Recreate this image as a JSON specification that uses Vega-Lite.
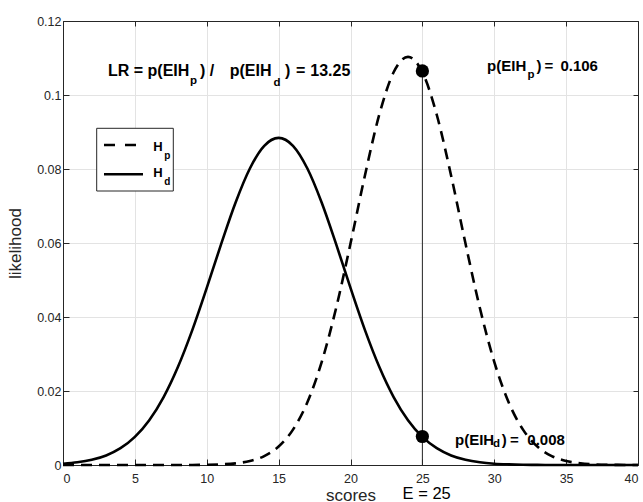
{
  "$schema": "https://vega.github.io/schema/vega-lite/v6.json",
  "width": 575,
  "height": 444,
  "autosize": {"type": "none"},
  "padding": {"left": 63, "top": 21, "right": 5, "bottom": 37},
  "background": "white",
  "config": {
    "view": {"stroke": null},
    "font": "Liberation Sans",
    "axis": {"labelFont": "Liberation Sans", "titleFont": "Liberation Sans"}
  },
  "datasets": {
    "curves": [
      {"x": 0, "y": 0.00035, "h": "Hd"}, {"x": 1, "y": 0.00072, "h": "Hd"}, {"x": 2, "y": 0.0014, "h": "Hd"}, {"x": 3, "y": 0.00258, "h": "Hd"},
      {"x": 4, "y": 0.00454, "h": "Hd"}, {"x": 5, "y": 0.00759, "h": "Hd"}, {"x": 6, "y": 0.01211, "h": "Hd"}, {"x": 7, "y": 0.01837, "h": "Hd"},
      {"x": 8, "y": 0.02655, "h": "Hd"}, {"x": 9, "y": 0.03653, "h": "Hd"}, {"x": 10, "y": 0.04786, "h": "Hd"}, {"x": 11, "y": 0.05969, "h": "Hd"},
      {"x": 12, "y": 0.07088, "h": "Hd"}, {"x": 13, "y": 0.08013, "h": "Hd"}, {"x": 14, "y": 0.08626, "h": "Hd"}, {"x": 15, "y": 0.0884, "h": "Hd"},
      {"x": 16, "y": 0.08626, "h": "Hd"}, {"x": 17, "y": 0.08013, "h": "Hd"}, {"x": 18, "y": 0.07088, "h": "Hd"}, {"x": 19, "y": 0.05969, "h": "Hd"},
      {"x": 20, "y": 0.04786, "h": "Hd"}, {"x": 21, "y": 0.03653, "h": "Hd"}, {"x": 22, "y": 0.02655, "h": "Hd"}, {"x": 23, "y": 0.01837, "h": "Hd"},
      {"x": 24, "y": 0.01211, "h": "Hd"}, {"x": 25, "y": 0.00759, "h": "Hd"}, {"x": 26, "y": 0.00454, "h": "Hd"}, {"x": 27, "y": 0.00258, "h": "Hd"},
      {"x": 28, "y": 0.0014, "h": "Hd"}, {"x": 29, "y": 0.00072, "h": "Hd"}, {"x": 30, "y": 0.00035, "h": "Hd"}, {"x": 31, "y": 0.00017, "h": "Hd"},
      {"x": 32, "y": 0.00007, "h": "Hd"}, {"x": 33, "y": 0.00003, "h": "Hd"}, {"x": 34, "y": 0.00001, "h": "Hd"}, {"x": 35, "y": 0.000005, "h": "Hd"},
      {"x": 36, "y": 0.000002, "h": "Hd"}, {"x": 37, "y": 0.000001, "h": "Hd"}, {"x": 38, "y": 0, "h": "Hd"}, {"x": 39, "y": 0, "h": "Hd"}, {"x": 40, "y": 0, "h": "Hd"},
      {"x": 0, "y": 0, "h": "Hp"}, {"x": 1, "y": 0, "h": "Hp"}, {"x": 2, "y": 0, "h": "Hp"}, {"x": 3, "y": 0, "h": "Hp"},
      {"x": 4, "y": 0, "h": "Hp"}, {"x": 5, "y": 0, "h": "Hp"}, {"x": 6, "y": 0, "h": "Hp"}, {"x": 7, "y": 0.000002, "h": "Hp"},
      {"x": 8, "y": 0.000006, "h": "Hp"}, {"x": 9, "y": 0.00002, "h": "Hp"}, {"x": 10, "y": 0.00006, "h": "Hp"}, {"x": 11, "y": 0.00017, "h": "Hp"},
      {"x": 12, "y": 0.00045, "h": "Hp"}, {"x": 13, "y": 0.00108, "h": "Hp"}, {"x": 14, "y": 0.00242, "h": "Hp"}, {"x": 15, "y": 0.00499, "h": "Hp"},
      {"x": 16, "y": 0.00956, "h": "Hp"}, {"x": 17, "y": 0.01696, "h": "Hp"}, {"x": 18, "y": 0.02787, "h": "Hp"}, {"x": 19, "y": 0.04243, "h": "Hp"},
      {"x": 20, "y": 0.05984, "h": "Hp"}, {"x": 21, "y": 0.0782, "h": "Hp"}, {"x": 22, "y": 0.09466, "h": "Hp"}, {"x": 23, "y": 0.10616, "h": "Hp"},
      {"x": 24, "y": 0.1103, "h": "Hp"}, {"x": 25, "y": 0.10616, "h": "Hp"}, {"x": 26, "y": 0.09466, "h": "Hp"}, {"x": 27, "y": 0.0782, "h": "Hp"},
      {"x": 28, "y": 0.05984, "h": "Hp"}, {"x": 29, "y": 0.04243, "h": "Hp"}, {"x": 30, "y": 0.02787, "h": "Hp"}, {"x": 31, "y": 0.01696, "h": "Hp"},
      {"x": 32, "y": 0.00956, "h": "Hp"}, {"x": 33, "y": 0.00499, "h": "Hp"}, {"x": 34, "y": 0.00242, "h": "Hp"}, {"x": 35, "y": 0.00108, "h": "Hp"},
      {"x": 36, "y": 0.00045, "h": "Hp"}, {"x": 37, "y": 0.00017, "h": "Hp"}, {"x": 38, "y": 0.00006, "h": "Hp"}, {"x": 39, "y": 0.00002, "h": "Hp"}, {"x": 40, "y": 0.000006, "h": "Hp"}
    ],
    "evidence": [{"x": 25, "y": 0.1065, "y2": 0}],
    "dots": [{"x": 25, "y": 0.1065, "h": "Hp"}, {"x": 25, "y": 0.0077, "h": "Hd"}],
    "legbox": [{"x": 2.344, "x2": 7.673, "y": 0.091, "y2": 0.07405}],
    "leglines": [
      {"x": 2.852, "x2": 5.565, "y": 0.0865, "h": "Hp"},
      {"x": 2.852, "x2": 5.565, "y": 0.0786, "h": "Hd"}
    ],
    "ann": [
      {"x": 3.13, "y": 0.1052, "t": "LR = p(EIH", "g": "lr"},
      {"x": 9.53, "y": 0.1052, "t": ")", "g": "lr"},
      {"x": 10.2, "y": 0.1052, "t": "/", "g": "lr"},
      {"x": 11.6, "y": 0.1052, "t": "p(EIH", "g": "lr"},
      {"x": 15.44, "y": 0.1052, "t": ")", "g": "lr"},
      {"x": 16.2, "y": 0.1052, "t": "=", "g": "lr"},
      {"x": 17.2, "y": 0.1052, "t": "13.25", "g": "lr"},
      {"x": 8.84, "y": 0.103, "t": "p", "g": "lrsub"},
      {"x": 14.65, "y": 0.1024, "t": "d", "g": "lrsub"},
      {"x": 29.5, "y": 0.1066, "t": "p(EIH", "g": "pv"},
      {"x": 32.94, "y": 0.1066, "t": ")", "g": "pv"},
      {"x": 33.5, "y": 0.1066, "t": "=", "g": "pv"},
      {"x": 34.6, "y": 0.1066, "t": "0.106", "g": "pv"},
      {"x": 27.27, "y": 0.0055, "t": "p(EIH", "g": "pv"},
      {"x": 30.52, "y": 0.0055, "t": ")", "g": "pv"},
      {"x": 31.1, "y": 0.0055, "t": "=", "g": "pv"},
      {"x": 32.3, "y": 0.0055, "t": "0.008", "g": "pv"},
      {"x": 32.31, "y": 0.1047, "t": "p", "g": "pvsub"},
      {"x": 29.91, "y": 0.0049, "t": "d", "g": "pvsub"},
      {"x": 6.28, "y": 0.085, "t": "H", "g": "leg"},
      {"x": 6.28, "y": 0.0779, "t": "H", "g": "leg"},
      {"x": 7.05, "y": 0.0827, "t": "p", "g": "legsub"},
      {"x": 7.05, "y": 0.0757, "t": "d", "g": "legsub"},
      {"x": 25.3, "y": -0.0091, "t": "E = 25", "g": "e"}
    ]
  },
  "resolve": {"axis": {"x": "independent", "y": "independent"}},
  "layer": [
    {
      "layer": [
        {
          "data": {"name": "curves"},
          "transform": [{"filter": "datum.h === 'Hd'"}],
          "mark": {"type": "line", "color": "black", "strokeWidth": 2.6, "interpolate": "monotone"},
          "encoding": {
            "x": {
              "field": "x", "type": "quantitative",
              "scale": {"domain": [0, 40], "nice": false, "zero": false},
              "axis": {
                "orient": "bottom", "values": [0, 5, 10, 15, 20, 25, 30, 35, 40],
                "grid": true, "gridColor": "#e3e3e3", "gridWidth": 1,
                "domainColor": "#262626", "tickColor": "#262626", "tickSize": -6,
                "labelPadding": 13, "labelFontSize": 12.5, "labelColor": "#262626",
                "title": "scores", "titleFontSize": 17, "titleFontWeight": "normal",
                "titleColor": "#262626", "titlePadding": 3
              }
            },
            "y": {
              "field": "y", "type": "quantitative",
              "scale": {"domain": [0, 0.12], "nice": false, "zero": false},
              "axis": {
                "orient": "left", "values": [0, 0.02, 0.04, 0.06, 0.08, 0.1, 0.12], "format": "~g",
                "grid": true, "gridColor": "#e3e3e3", "gridWidth": 1,
                "domainColor": "#262626", "tickColor": "#262626", "tickSize": -6,
                "labelPadding": 8, "labelFontSize": 12.5, "labelColor": "#262626",
                "title": "likelihood", "titleFontSize": 17, "titleFontWeight": "normal",
                "titleColor": "#262626", "titlePadding": 12
              }
            }
          }
        },
        {
          "data": {"name": "curves"},
          "transform": [{"filter": "datum.h === 'Hp'"}],
          "mark": {"type": "line", "color": "black", "strokeWidth": 2.6, "interpolate": "monotone", "strokeDash": [11, 7]},
          "encoding": {
            "x": {"field": "x", "type": "quantitative"},
            "y": {"field": "y", "type": "quantitative"}
          }
        },
        {
          "data": {"name": "evidence"},
          "mark": {"type": "rule", "color": "#262626", "strokeWidth": 1},
          "encoding": {
            "x": {"field": "x", "type": "quantitative"},
            "y": {"field": "y", "type": "quantitative"},
            "y2": {"field": "y2"}
          }
        },
        {
          "data": {"name": "dots"},
          "mark": {"type": "circle", "color": "black", "opacity": 1, "size": 175},
          "encoding": {
            "x": {"field": "x", "type": "quantitative"},
            "y": {"field": "y", "type": "quantitative"}
          }
        },
        {
          "data": {"name": "legbox"},
          "mark": {"type": "rect", "fill": "white", "stroke": "#262626", "strokeWidth": 1},
          "encoding": {
            "x": {"field": "x", "type": "quantitative"},
            "x2": {"field": "x2"},
            "y": {"field": "y", "type": "quantitative"},
            "y2": {"field": "y2"}
          }
        },
        {
          "data": {"name": "leglines"},
          "transform": [{"filter": "datum.h === 'Hp'"}],
          "mark": {"type": "rule", "color": "black", "strokeWidth": 2.6, "strokeDash": [11, 10]},
          "encoding": {
            "x": {"field": "x", "type": "quantitative"},
            "x2": {"field": "x2"},
            "y": {"field": "y", "type": "quantitative"}
          }
        },
        {
          "data": {"name": "leglines"},
          "transform": [{"filter": "datum.h === 'Hd'"}],
          "mark": {"type": "rule", "color": "black", "strokeWidth": 2.6},
          "encoding": {
            "x": {"field": "x", "type": "quantitative"},
            "x2": {"field": "x2"},
            "y": {"field": "y", "type": "quantitative"}
          }
        },
        {
          "data": {"name": "ann"},
          "transform": [{"filter": "datum.g === 'lr'"}],
          "mark": {"type": "text", "align": "left", "baseline": "alphabetic", "font": "Liberation Sans", "fontWeight": "bold", "fontSize": 16, "color": "black"},
          "encoding": {
            "x": {"field": "x", "type": "quantitative"},
            "y": {"field": "y", "type": "quantitative"},
            "text": {"field": "t"}
          }
        },
        {
          "data": {"name": "ann"},
          "transform": [{"filter": "datum.g === 'lrsub'"}],
          "mark": {"type": "text", "align": "left", "baseline": "alphabetic", "font": "Liberation Sans", "fontWeight": "bold", "fontSize": 11.5, "color": "black"},
          "encoding": {
            "x": {"field": "x", "type": "quantitative"},
            "y": {"field": "y", "type": "quantitative"},
            "text": {"field": "t"}
          }
        },
        {
          "data": {"name": "ann"},
          "transform": [{"filter": "datum.g === 'pv'"}],
          "mark": {"type": "text", "align": "left", "baseline": "alphabetic", "font": "Liberation Sans", "fontWeight": "bold", "fontSize": 15, "color": "black"},
          "encoding": {
            "x": {"field": "x", "type": "quantitative"},
            "y": {"field": "y", "type": "quantitative"},
            "text": {"field": "t"}
          }
        },
        {
          "data": {"name": "ann"},
          "transform": [{"filter": "datum.g === 'pvsub'"}],
          "mark": {"type": "text", "align": "left", "baseline": "alphabetic", "font": "Liberation Sans", "fontWeight": "bold", "fontSize": 11.5, "color": "black"},
          "encoding": {
            "x": {"field": "x", "type": "quantitative"},
            "y": {"field": "y", "type": "quantitative"},
            "text": {"field": "t"}
          }
        },
        {
          "data": {"name": "ann"},
          "transform": [{"filter": "datum.g === 'leg'"}],
          "mark": {"type": "text", "align": "left", "baseline": "alphabetic", "font": "Liberation Sans", "fontWeight": "bold", "fontSize": 13, "color": "black"},
          "encoding": {
            "x": {"field": "x", "type": "quantitative"},
            "y": {"field": "y", "type": "quantitative"},
            "text": {"field": "t"}
          }
        },
        {
          "data": {"name": "ann"},
          "transform": [{"filter": "datum.g === 'legsub'"}],
          "mark": {"type": "text", "align": "left", "baseline": "alphabetic", "font": "Liberation Sans", "fontWeight": "bold", "fontSize": 10, "color": "black"},
          "encoding": {
            "x": {"field": "x", "type": "quantitative"},
            "y": {"field": "y", "type": "quantitative"},
            "text": {"field": "t"}
          }
        },
        {
          "data": {"name": "ann"},
          "transform": [{"filter": "datum.g === 'e'"}],
          "mark": {"type": "text", "align": "center", "baseline": "alphabetic", "font": "Liberation Sans", "fontSize": 16.5, "color": "black"},
          "encoding": {
            "x": {"field": "x", "type": "quantitative"},
            "y": {"field": "y", "type": "quantitative"},
            "text": {"field": "t"}
          }
        }
      ]
    },
    {
      "data": {"name": "dots"},
      "mark": {"type": "point", "opacity": 0},
      "encoding": {
        "x": {
          "field": "x", "type": "quantitative",
          "scale": {"domain": [0, 40], "nice": false, "zero": false},
          "axis": {
            "orient": "top", "values": [0, 5, 10, 15, 20, 25, 30, 35, 40],
            "labels": false, "grid": false, "title": null,
            "domainColor": "#262626", "tickColor": "#262626", "tickSize": -5
          }
        },
        "y": {
          "field": "y", "type": "quantitative",
          "scale": {"domain": [0, 0.12], "nice": false, "zero": false},
          "axis": {
            "orient": "right", "values": [0, 0.02, 0.04, 0.06, 0.08, 0.1, 0.12],
            "labels": false, "grid": false, "title": null,
            "domainColor": "#262626", "tickColor": "#262626", "tickSize": -5
          }
        }
      }
    }
  ]
}
